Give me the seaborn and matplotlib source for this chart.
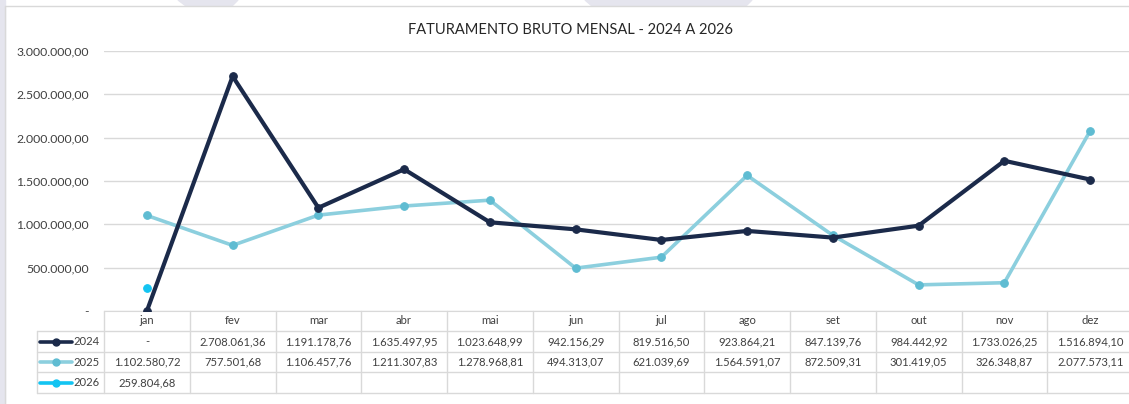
import numpy as np
import pandas as pd
import seaborn as sns
import matplotlib.pyplot as plt
from matplotlib.lines import Line2D
from matplotlib.patches import Rectangle, Polygon

# ---- data ----
meses = ['jan', 'fev', 'mar', 'abr', 'mai', 'jun', 'jul', 'ago', 'set', 'out', 'nov', 'dez']
fat_2024 = [0.0, 2708061.36, 1191178.76, 1635497.95, 1023648.99, 942156.29,
            819516.50, 923864.21, 847139.76, 984442.92, 1733026.25, 1516894.10]
fat_2025 = [1102580.72, 757501.68, 1106457.76, 1211307.83, 1278968.81, 494313.07,
            621039.69, 1564591.07, 872509.31, 301419.05, 326348.87, 2077573.11]
fat_2026 = [259804.68]
anos = ['2024', '2025', '2026']
y_ticks = [0, 500000, 1000000, 1500000, 2000000, 2500000, 3000000]

cor_linha = {'2024': '#1b2a4a', '2025': '#8ccfde', '2026': '#13c4f2'}
cor_marca = {'2024': '#1b2a4a', '2025': '#5fbcd2', '2026': '#13c4f2'}


def fmt_br(v):
    if v == 0:
        return '-'
    s = f"{v:,.2f}"
    return s.replace(',', 'X').replace('.', ',').replace('X', '.')


df = pd.concat([
    pd.DataFrame({'mes': meses, 'pos': range(12), 'valor': fat_2024, 'ano': '2024'}),
    pd.DataFrame({'mes': meses, 'pos': range(12), 'valor': fat_2025, 'ano': '2025'}),
    pd.DataFrame({'mes': meses[:1], 'pos': range(1), 'valor': fat_2026, 'ano': '2026'}),
])

sns.set_style("white")
plt.rcParams['font.family'] = ['Lato', 'DejaVu Sans']
FS = 8.8     # axis labels
FS_TAB = 8.1  # data table
TXT = '#404040'

W, H = 1129, 404
fig = plt.figure(figsize=(W / 100, H / 100), dpi=100)
fig.patch.set_facecolor('white')

# decorative background / frame
fig.patches.append(Rectangle((0, 0), 5 / W, 1, transform=fig.transFigure, color='#e5e5ee', zorder=0))
fig.patches.append(Polygon([(178 / W, 1), (238 / W, 1), (232 / W, 1 - 6 / H), (186 / W, 1 - 6 / H)],
                           closed=True, transform=fig.transFigure, color='#e5e5ee', zorder=0))
fig.patches.append(Polygon([(585 / W, 1), (752 / W, 1), (746 / W, 1 - 6 / H), (592 / W, 1 - 6 / H)],
                           closed=True, transform=fig.transFigure, color='#e5e5ee', zorder=0))
fig.lines.append(Line2D([5 / W, 1], [1 - 6 / H, 1 - 6 / H], transform=fig.transFigure, color='#d9d9d9', lw=1))
fig.lines.append(Line2D([5 / W, 5 / W], [0, 1 - 6 / H], transform=fig.transFigure, color='#d9d9d9', lw=1))

# ---- main chart ----
col_w = 85.75
x0, x1 = 104, 104 + 12 * col_w
ax = fig.add_axes([x0 / W, (H - 311) / H, (x1 - x0) / W, (311 - 51) / H])
ax.patch.set_alpha(0)

for ano in anos:
    sub = df[df['ano'] == ano]
    sns.lineplot(data=sub, x='pos', y='valor', ax=ax, color=cor_linha[ano],
                 lw=3.0 if ano == '2024' else 2.6, marker='o', markersize=5.5,
                 markerfacecolor=cor_marca[ano], markeredgecolor=cor_marca[ano],
                 legend=False, zorder=3 if ano == '2024' else 2)

ax.set_xlim(-0.5, 11.5)
ax.set_ylim(0, 3000000)
ax.set_yticks(y_ticks)
ax.set_yticklabels([fmt_br(v) for v in y_ticks], fontsize=FS, color=TXT)
ax.set_xticks([])
ax.set_xlabel('')
ax.set_ylabel('')
ax.grid(axis='y', color='#d9d9d9', lw=1)
ax.tick_params(axis='y', length=0, pad=11)
for s in ['top', 'right', 'left']:
    ax.spines[s].set_visible(False)
ax.spines['bottom'].set_color('#d9d9d9')
ax.set_axisbelow(True)

fig.text(570 / W, 1 - 30 / H, 'FATURAMENTO BRUTO MENSAL - 2024 A 2026', ha='center', va='center',
         fontsize=10.5, color='#262626')

# ---- data table ----
tab = fig.add_axes([37 / W, (H - 393) / H, (x1 - 37) / W, (393 - 311) / H])
leg_l = -0.5 - (104 - 37) / col_w
tab.set_xlim(leg_l, 11.5)
tab.set_ylim(393, 311)
tab.axis('off')
gc = '#d9d9d9'
row_b = [311, 331, 352, 372, 393]
for yb in row_b[1:]:
    tab.plot([leg_l, 11.5], [yb, yb], color=gc, lw=1, clip_on=False)
for i in range(13):
    tab.plot([i - 0.5, i - 0.5], [311, 393], color=gc, lw=1, clip_on=False)
tab.plot([leg_l, leg_l], [331, 393], color=gc, lw=1, clip_on=False)

for i, m in enumerate(meses):
    tab.text(i, 321, m, ha='center', va='center', fontsize=FS_TAB, color=TXT)

series = {'2024': fat_2024, '2025': fat_2025, '2026': fat_2026}
for r, ano in enumerate(anos):
    yc = (row_b[r + 1] + row_b[r + 2]) / 2
    for i, v in enumerate(series[ano]):
        tab.text(i, yc, fmt_br(v), ha='center', va='center', fontsize=FS_TAB, color=TXT)
    tab.add_line(Line2D([leg_l + 0.035, leg_l + 0.41], [yc, yc], color=cor_linha[ano], lw=2.6))
    tab.add_line(Line2D([leg_l + 0.22], [yc], marker='o', markersize=5, ls='',
                        markerfacecolor=cor_marca[ano], markeredgecolor=cor_marca[ano]))
    tab.text(leg_l + 0.425, yc, ano, ha='left', va='center', fontsize=FS_TAB, color=TXT)

plt.savefig('out.png', dpi=100)
plt.close()
